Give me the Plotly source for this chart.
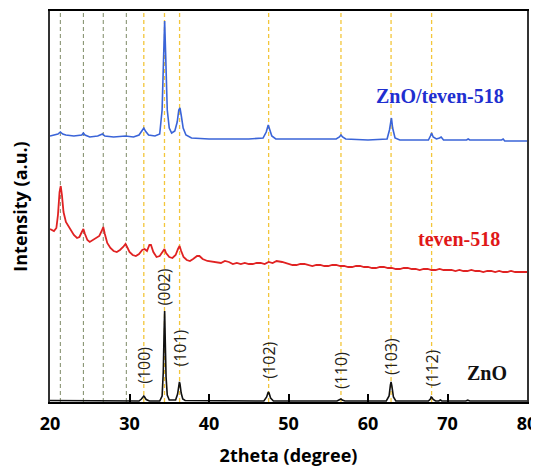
import plotly.graph_objects as go

# ---------------- data (intensity in arbitrary units) ----------------
zno_x = [20, 25, 30, 31.2, 31.5, 31.7, 31.8, 31.9, 32.1, 32.5, 33.8, 34.1, 34.25, 34.35, 34.42, 34.5,
         34.6, 34.75, 35.0, 35.8, 36.05, 36.2, 36.28, 36.35, 36.5, 36.7, 37.0, 46.9, 47.25, 47.45,
         47.55, 47.75, 48.1, 56.1, 56.45, 56.6, 56.75, 57.1, 62.3, 62.65, 62.82, 62.9, 63.0, 63.2,
         63.5, 67.6, 67.85, 67.95, 68.05, 68.2, 68.5, 68.9, 69.1, 69.3, 72.3, 72.55, 72.8, 76.8,
         76.95, 77.1, 80]
zno_y = [1.5, 1.2, 1, 1, 3, 5.5, 6, 5, 2.5, 1, 1, 6, 30, 70, 91, 60,
         25, 7, 2, 2, 8, 16, 20, 18, 9, 3, 1.5, 1, 5, 10,
         9, 4, 1, 1, 2, 3, 2, 1, 1, 6, 17, 20, 16, 5,
         1, 1, 3, 5, 4.5, 2.5, 1, 1, 2, 1, 1, 1.8, 1, 1,
         1.6, 1, 1]

teven_x = [20.0, 20.3, 20.5, 20.8, 21.0, 21.2, 21.35, 21.5, 21.7, 22.0, 22.3, 22.6, 23.0, 23.4, 23.7,
           24.0, 24.2, 24.4, 24.7, 25.0, 25.4, 25.8, 26.2, 26.5, 26.7, 26.9, 27.2, 27.6, 28.0, 28.4,
           28.8, 29.2, 29.5, 29.7, 30.0, 30.4, 30.8, 31.2, 31.6, 31.9, 32.2, 32.5, 32.7, 33.0, 33.4,
           33.8, 34.1, 34.4, 34.6, 35.0, 35.4, 35.8, 36.1, 36.3, 36.5, 36.8, 37.2, 37.6, 38.0, 38.5,
           38.8, 39.2, 39.8, 40.5, 41.0, 41.5, 42.0, 42.5, 43.0, 43.5, 44.0, 44.5, 45.0, 45.5, 46.0,
           46.5, 47.0, 47.5, 48.0, 48.5, 49.2, 50.0, 50.5, 51.0, 51.5, 52.0, 52.5, 53.0, 53.5, 54.0,
           54.5, 55.0, 55.5, 56.0, 56.5, 57.0, 57.5, 58.0, 58.5, 59.0, 59.5, 60.0, 60.5, 61.0, 61.5,
           62.0, 62.5, 63.0, 63.5, 64.0, 64.5, 65.0, 65.5, 66.0, 66.5, 67.0, 67.5, 68.0, 68.5, 69.0,
           69.5, 70.0, 70.5, 71.0, 71.5, 72.0, 72.5, 73.0, 73.5, 74.0, 74.5, 75.0, 75.5, 76.0, 76.5,
           77.0, 77.5, 78.0, 78.5, 79.0, 79.5, 80.0]
teven_y = [173, 172, 171, 174, 187, 210, 216, 207, 190, 180, 176, 173, 167, 164, 165,
           170, 173, 168, 162, 160, 162, 164, 166, 171, 175, 168, 159, 154, 151, 150,
           152, 155, 158, 155, 150, 147, 146, 148, 152, 153, 151, 157, 157, 150, 145,
           146, 150, 153, 149, 145, 144, 147, 153, 156, 151, 145, 142, 141, 143, 146,
           146, 143, 141, 140, 139, 139, 141, 140, 138, 139, 138, 139, 138, 138, 139,
           139, 138, 140, 139, 141, 140, 138, 137, 137, 138, 138, 137, 136, 137, 137,
           136, 136, 137, 137, 136, 136, 135, 135, 136, 136, 135, 135, 134, 134, 135,
           135, 134, 134, 133, 133, 134, 134, 133, 133, 132, 133, 133, 132, 132, 133,
           132, 132, 132, 131, 132, 131, 131, 132, 131, 131, 130, 131, 131, 130, 131,
           130, 130, 131, 130, 130, 130, 130]

comp_x = [20, 20.5, 21.0, 21.3, 21.6, 22.0, 23.0, 24.0, 24.2, 24.4, 25.0, 26.0, 26.6, 26.9, 28.0,
          29.5, 30.5, 31.2, 31.6, 31.8, 32.0, 32.4, 33.2, 33.8, 34.1, 34.3, 34.42, 34.55, 34.75,
          35.0, 35.3, 35.7, 36.0, 36.2, 36.35, 36.5, 36.75, 37.1, 37.8, 40, 45, 46.8, 47.2, 47.45,
          47.6, 47.9, 48.4, 52, 56.0, 56.4, 56.6, 56.8, 57.2, 60, 62.4, 62.7, 62.85, 62.95, 63.1,
          63.4, 64, 67.6, 67.85, 68.0, 68.2, 68.6, 69.0, 69.2, 69.5, 72.4, 72.6, 72.8, 76.8, 77.0,
          77.2, 80]
comp_y = [266, 267, 268, 270, 268, 267, 266, 267, 269, 267, 265, 266, 268, 266, 265,
          266, 265, 267, 271, 274, 271, 267, 266, 268, 292, 352, 381, 347, 292,
          274, 269, 271, 280, 292, 294, 287, 274, 267, 264, 263, 263, 264, 270, 277,
          274, 266, 263, 263, 263, 265, 267, 265, 263, 262, 263, 272, 283, 284, 274,
          264, 262, 262, 266, 269, 265, 263, 264, 265, 262, 262, 263, 262, 262, 263,
          261, 261]

zno_peak_pos = [31.8, 34.4, 36.3, 47.5, 56.6, 62.9, 68.0]
zno_peak_labels = ["(100)", "(002)", "(101)", "(102)", "(110)", "(103)", "(112)"]
zno_label_y = [37, 115, 54, 42, 32, 45, 34]
teven_peak_pos = [21.3, 24.2, 26.7, 29.6]

x_ticks = [20, 30, 40, 50, 60, 70, 80]

# ---------------- figure ----------------
fig = go.Figure()
fig.add_trace(go.Scatter(x=zno_x, y=zno_y, mode="lines", line=dict(color="#111111", width=1.6),
                         name="ZnO", showlegend=False))
fig.add_trace(go.Scatter(x=teven_x, y=teven_y, mode="lines", line=dict(color="#e02222", width=1.8),
                         name="teven-518", showlegend=False))
fig.add_trace(go.Scatter(x=comp_x, y=comp_y, mode="lines", line=dict(color="#3a64d8", width=1.6),
                         name="ZnO/teven-518", showlegend=False))

shapes = []
for p in teven_peak_pos:
    shapes.append(dict(type="line", xref="x", yref="paper", x0=p, x1=p, y0=0, y1=1,
                       line=dict(color="#7d8a66", width=1, dash="4px,3px"), layer="below"))
for p in zno_peak_pos:
    shapes.append(dict(type="line", xref="x", yref="paper", x0=p, x1=p, y0=0, y1=1,
                       line=dict(color="#f3c63a", width=1.3, dash="4px,3px"), layer="below"))

annotations = []
for p, t, yy in zip(zno_peak_pos, zno_peak_labels, zno_label_y):
    annotations.append(dict(x=p, y=yy, xref="x", yref="y", text=t, textangle=-90, showarrow=False,
                            font=dict(family="Open Sans", size=16, color="#222222")))
annotations.append(dict(x=69.05, y=306, xref="x", yref="y", text="<b>ZnO/teven-518</b>", showarrow=False,
                        font=dict(family="Liberation Serif", size=20, color="#1f2fd0")))
annotations.append(dict(x=71.4, y=163, xref="x", yref="y", text="<b>teven-518</b>", showarrow=False,
                        font=dict(family="Liberation Serif", size=20, color="#e01818")))
annotations.append(dict(x=75.0, y=29, xref="x", yref="y", text="<b>ZnO</b>", showarrow=False,
                        font=dict(family="Liberation Serif", size=20, color="#111111")))

# The page body has an 8px margin, so the figure is sized/margined to land on the reference pixels.
fig.update_layout(
    width=531, height=459,
    margin=dict(l=42, r=12, t=3, b=65, autoexpand=False),
    paper_bgcolor="white", plot_bgcolor="white",
    shapes=shapes, annotations=annotations,
    font=dict(family="Open Sans", color="black"),
)
fig.update_xaxes(range=[20, 80], tickvals=x_ticks, ticktext=[f"<b>{v}</b>" for v in x_ticks],
                 ticks="inside", ticklen=8, tickwidth=1.5, tickcolor="black",
                 showline=True, linecolor="black", linewidth=2, mirror=True,
                 showgrid=False, zeroline=False, automargin=False, ticklabelstandoff=4,
                 tickfont=dict(family="Open Sans", size=18, color="black"),
                 title=dict(text="<b>2theta (degree)</b>", font=dict(family="Open Sans", size=18, color="black"),
                            standoff=17))
fig.update_yaxes(range=[0, 391], showticklabels=False, ticks="",
                 showline=True, linecolor="#333333", linewidth=2, mirror=True,
                 showgrid=False, zeroline=False, automargin=False,
                 title=dict(text="<b>Intensity (a.u.)</b>", font=dict(family="Open Sans", size=18, color="black"),
                            standoff=19))

fig.write_html("out.html")
